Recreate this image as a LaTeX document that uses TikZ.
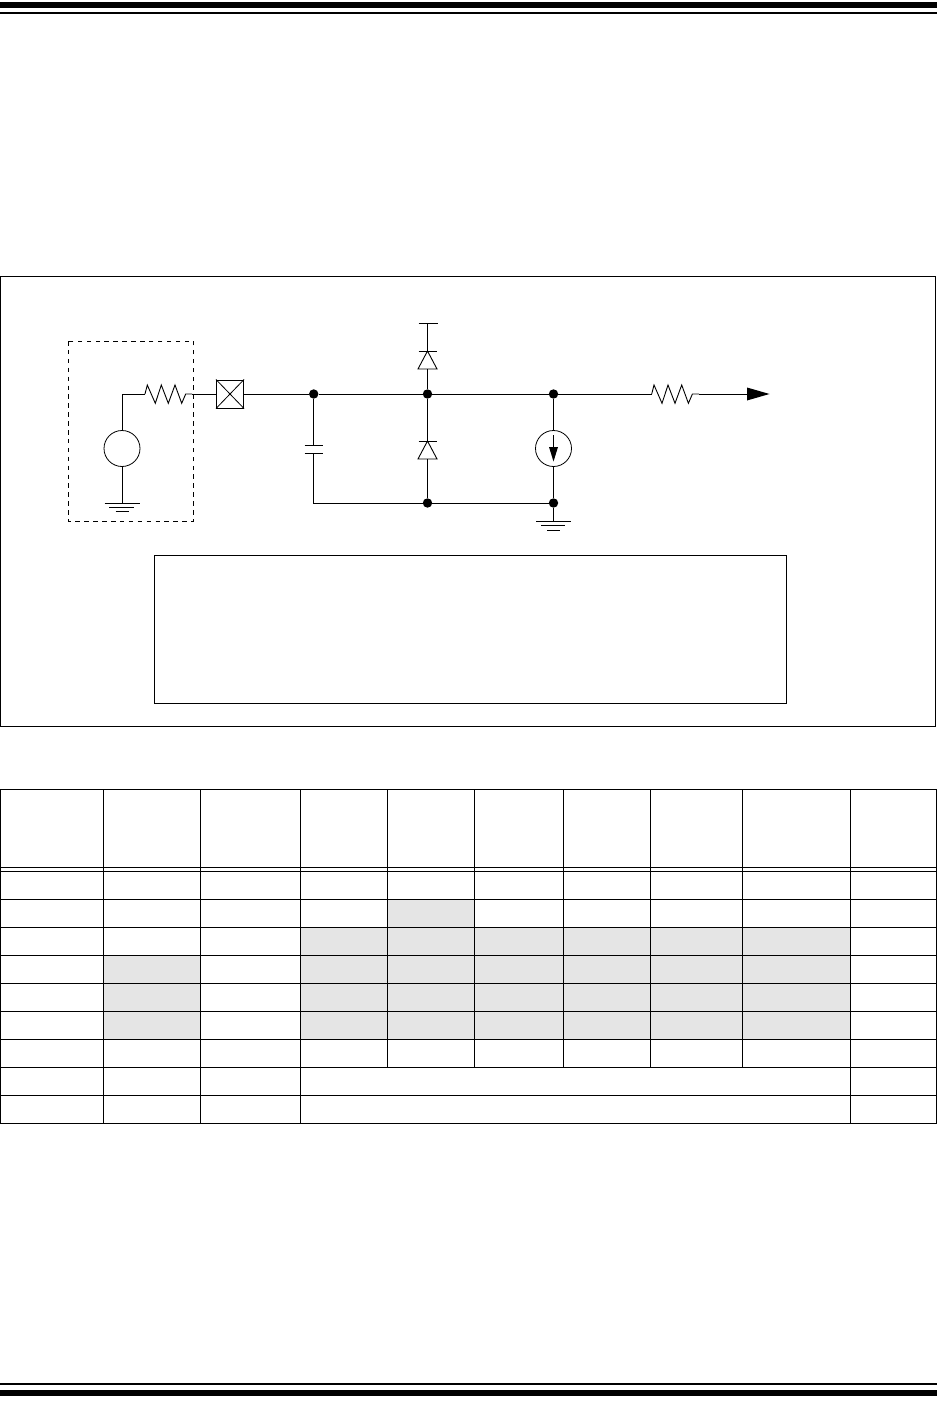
\documentclass[tikz,border=0pt]{standalone}
\definecolor{cellgray}{HTML}{E5E5E5}
\tikzset{
  wire/.style={line width=0.9pt,line join=miter},
  dotn/.style={circle,fill=black,draw=none,inner sep=0pt,minimum size=9.4pt},
  srcn/.style={circle,draw=black,line width=0.8pt,inner sep=0pt,minimum size=36pt},
  padn/.style={rectangle,draw=black,line width=1pt,inner sep=0pt,minimum width=27pt,minimum height=28pt},
  frame/.style={draw=black,line width=1pt},
  grid/.style={line width=1pt},
  bar/.style={fill=black,draw=none}
}
\newcommand{\zigzag}[2]{% start node, end node
  \draw[wire] (#1) -- ++(2.3,-9) -- ++(8,18.3) -- ++(6,-18.3) -- ++(7,18.3) -- ++(6.7,-18.3) -- ++(6.7,18.3) -- ++(4,-9.3) -- (#2);}
\begin{document}
\begin{tikzpicture}[x=1pt,y=-1pt]
\useasboundingbox (0,0) rectangle (937,1412);
% page rules
\fill[bar] (0,2) rectangle (937,8);
\fill[bar] (0,12) rectangle (937,14);
\fill[bar] (0,1383) rectangle (937,1385);
\fill[bar] (0,1390) rectangle (937,1396);
% frame
\draw[frame] (0.5,276.5) rectangle (935.5,726);
\draw[frame] (154.5,555.5) rectangle (786.5,703);
\draw[line width=0.9pt,dash pattern=on 4.5pt off 4.4pt] (68.5,341) rectangle (193.5,521);
% nodes
\node[srcn] (vs) at (122,448.5) {};
\node[padn] (pad) at (230,394) {};
\draw[line width=0.8pt] (pad.north west) -- (pad.south east) (pad.south west) -- (pad.north east);
\node[dotn] (n1) at (313.7,394) {};
\node[dotn] (n2) at (427.5,394) {};
\node[dotn] (n3) at (553.5,394) {};
\node[dotn] (n4) at (427.5,503) {};
\node[dotn] (n5) at (553.5,503) {};
\node[srcn] (is) at (553.5,448.5) {};
\coordinate (c0) at (122,394);
\coordinate (r1a) at (145,394);
\coordinate (r1b) at (192,394);
\coordinate (r2a) at (651.7,394);
\coordinate (r2b) at (699,394);
\coordinate (tipb) at (747,394);
\coordinate (tip) at (769.5,394);
\coordinate (g1) at (122,503);
\coordinate (g2) at (553.5,521);
\coordinate (cb) at (313.7,503);
\coordinate (cp1) at (313.7,445);
\coordinate (cp2) at (313.7,453.5);
\coordinate (d1t) at (427.5,323);
\coordinate (d1a) at (427.5,351);
\coordinate (d1b) at (427.5,369);
\coordinate (d2a) at (427.5,441);
\coordinate (d2b) at (427.5,459);
% left source branch
\draw[wire] (vs.north) -- (c0) -- (r1a);
\draw[wire] (vs.south) -- (g1);
\zigzag{r1a}{r1b}
\draw[wire] (r1b) -- (pad.west);
\draw[wire] (pad.east) -- (n1);
\draw[wire] (n1) -- (cp1);
\draw[wire] (cp2) -- (cb) -- (n4);
\draw[wire] (cp1) ++(-9,0) -- ++(18,0);
\draw[wire] (cp2) ++(-9,0) -- ++(18,0);
% main rail
\draw[wire] (n1) -- (n2);
\draw[wire] (n2) -- (n3);
\draw[wire] (n3) -- (r2a);
\zigzag{r2a}{r2b}
\draw[wire] (r2b) -- (tipb);
\fill (tipb) ++(0,-6.5) -- (tip) -- ++(-22.5,6.5) -- cycle;
% diodes
\draw[wire] (d1t) ++(-9,0) -- ++(19,0);
\draw[wire] (d1t) -- (d1a);
\draw[wire] (d1a) ++(-9,0) -- ++(18.5,0);
\draw[wire] (d1a) -- ++(-9.5,18) -- ++(19,0) -- cycle;
\draw[wire] (d1b) -- (n2);
\draw[wire] (n2) -- (d2a);
\draw[wire] (d2a) ++(-9,0) -- ++(18.5,0);
\draw[wire] (d2a) -- ++(-9.5,18) -- ++(19,0) -- cycle;
\draw[wire] (d2b) -- (n4);
\draw[wire] (n4) -- (n5);
% current source
\draw[wire] (n3) -- (is.north);
\draw[wire] (is.south) -- (n5);
\draw[wire] (n5) -- (g2);
\draw[wire] (is.center) ++(0,-13.5) -- ++(0,13);
\fill (is.center) ++(-4.5,-1.5) -- ++(9,0) -- ++(-4.5,14.5) -- cycle;
% grounds
\draw[wire] (g1) ++(-17.5,0) -- ++(35,0);
\draw[wire] (g1) ++(-13,4) -- ++(25,0);
\draw[wire] (g1) ++(-6.5,8) -- ++(13,0);
\draw[wire] (g2) ++(-17.5,0) -- ++(35,0);
\draw[wire] (g2) ++(-12.5,4.5) -- ++(24,0);
\draw[wire] (g2) ++(-6.5,9) -- ++(12.5,0);
% table shading
\fill[cellgray] (387,899) rectangle (474.5,927);
\fill[cellgray] (300.5,927) rectangle (850.5,1039);
\fill[cellgray] (103.5,955) rectangle (200.5,1039);
% table grid
\foreach \yy in {789.5,867.3,871,899,927,955,983,1011,1039,1067,1095,1123}
  \draw[grid] (0,\yy) -- (936.5,\yy);
\foreach \xx in {0.5,103.5,200.5,300.5,850.5,936.5}
  \draw[grid] (\xx,789) -- (\xx,1123.5);
\foreach \xx in {387,474.5,563,650.5,742.5}
  \draw[grid] (\xx,789) -- (\xx,1067.5);
\end{tikzpicture}
\end{document}
